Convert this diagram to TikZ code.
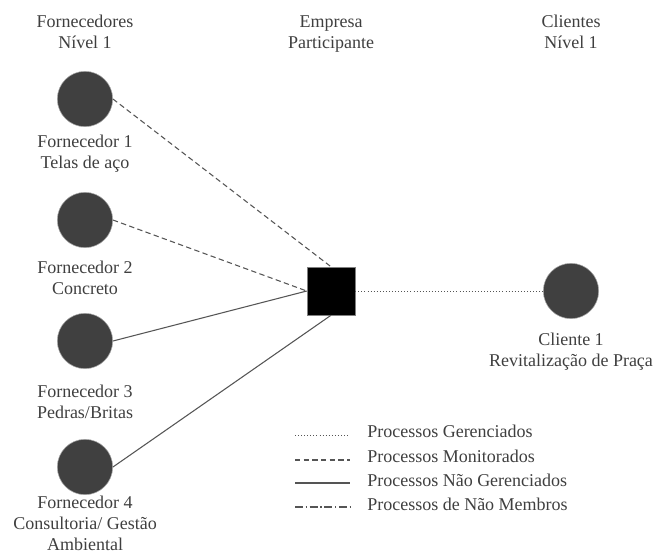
\documentclass[tikz,border=0pt]{standalone}
\usepackage{fontspec}
\setmainfont{Liberation Serif}
\definecolor{txt}{HTML}{3F3F3F}
\definecolor{dot}{HTML}{404040}
\definecolor{edge}{HTML}{555555}
\begin{document}
\begin{tikzpicture}[x=0.75pt,y=-0.75pt,
  label/.style={font=\fontsize{13.5pt}{15.75pt}\selectfont, text=txt, align=center, anchor=base, inner sep=0pt},
  party/.style={circle, fill=dot, draw=gray!70, line width=0.4pt, minimum size=41.5pt, inner sep=0pt},
  firm/.style={rectangle, fill=black, draw=gray, line width=0.4pt, minimum size=36pt, inner sep=0pt},
  link/.style={draw=edge, line width=0.8pt},
  managed/.style={link, line width=0.6pt, dash pattern=on 0.6pt off 1.7pt},
  monitored/.style={link, dash pattern=on 4pt off 2.5pt},
  unmanaged/.style={link},
  nonmember/.style={link, dash pattern=on 6pt off 2pt on 1pt off 2pt}]
\useasboundingbox (0,0) rectangle (656,558);

% column headings (anchored at the baseline of the last line)
\node[label] (h1) at (85,48) {Fornecedores\\Nível 1};
\node[label] (h2) at (331,48) {Empresa\\Participante};
\node[label] (h3) at (571,48) {Clientes\\Nível 1};

% suppliers
\node[party] (s1) at (85,99) {};
\node[party] (s2) at (85,220) {};
\node[party] (s3) at (85,341) {};
\node[party] (s4) at (85,467) {};
\node[label] (t1) at (85,168) {Fornecedor 1\\Telas de aço};
\node[label] (t2) at (85,294) {Fornecedor 2\\Concreto};
\node[label] (t3) at (85,418) {Fornecedor 3\\Pedras/Britas};
\node[label] (t4) at (85,550) {Fornecedor 4\\Consultoria/ Gestão\\Ambiental};

% focal company
\node[firm] (f) at (331,291) {};

% customer
\node[party] (c1) at (571,291) {};
\node[label] (tc) at (571,366) {Cliente 1\\Revitalização de Praça};

% links
\draw[monitored] (s1.east) -- (f.north);
\draw[monitored] (s2.east) -- (f.west);
\draw[unmanaged] (s3.east) -- (f.west);
\draw[unmanaged] (s4.east) -- (f.south);
\draw[managed] (f.east) -- (c1.west);

% legend
\coordinate (g1a) at (295,435); \coordinate (g1b) at (350,435);
\coordinate (g2a) at (295,460); \coordinate (g2b) at (350,460);
\coordinate (g3a) at (295,483); \coordinate (g3b) at (350,483);
\coordinate (g4a) at (295,507); \coordinate (g4b) at (350,507);
\draw[managed] (g1a) -- (g1b);
\draw[monitored] (g2a) -- (g2b);
\draw[unmanaged] (g3a) -- (g3b);
\draw[nonmember] (g4a) -- (g4b);
\node[label, anchor=base west] (k1) at (367,437) {Processos Gerenciados};
\node[label, anchor=base west] (k2) at (367,462) {Processos Monitorados};
\node[label, anchor=base west] (k3) at (367,486) {Processos Não Gerenciados};
\node[label, anchor=base west] (k4) at (367,510) {Processos de Não Membros};
\end{tikzpicture}
\end{document}
